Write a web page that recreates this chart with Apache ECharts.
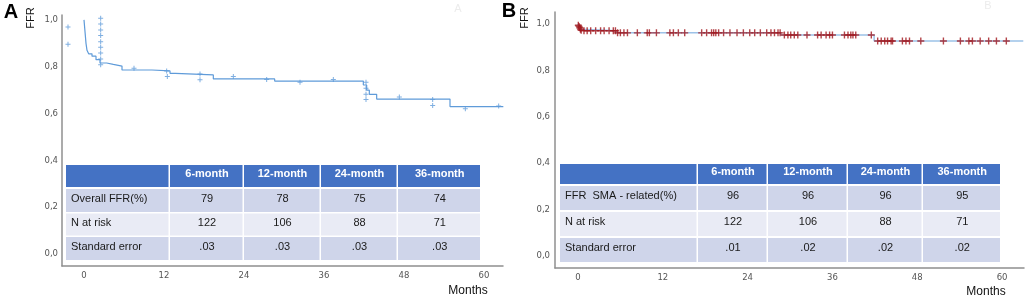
<!DOCTYPE html>
<html>
<head>
<meta charset="utf-8">
<script src="https://cdn.jsdelivr.net/npm/echarts@6/dist/echarts.min.js"></script>
<style>
  html, body { margin: 0; background: #ffffff; }
  #chart { width: 1026px; height: 297px; }
</style>
</head>
<body>
<div id="chart"></div>
<script>
// axis labels
const monthTicks = [0, 12, 24, 36, 48, 60]
const ffrTicks = [0, 0.2, 0.4, 0.6, 0.8, 1.0]

// panel A: survival curve (month, FFR) and censor marks
const curveA = [
  [0, 1.0], [0.15, 0.95], [0.3, 0.9], [0.45, 0.87], [0.7, 0.855], [1.2, 0.845],
  [1.8, 0.83], [2.4, 0.816], [3.4, 0.81], [4.4, 0.803], [5.7, 0.786], [10.2, 0.782],
  [12.9, 0.772], [13.7, 0.765], [19.4, 0.748], [28.6, 0.739], [41.9, 0.722],
  [42.4, 0.7], [42.8, 0.682], [43.9, 0.662], [54.9, 0.63], [62.9, 0.63]
]
const censorA = [
  [-2.4, 0.97], [-2.4, 0.896],
  [2.5, 1.007], [2.5, 0.983], [2.5, 0.957], [2.5, 0.933], [2.5, 0.907],
  [2.5, 0.883], [2.5, 0.859], [2.5, 0.833], [2.5, 0.808],
  [7.5, 0.794], [12.4, 0.782], [12.5, 0.758], [17.4, 0.769], [17.4, 0.744],
  [22.4, 0.758], [27.4, 0.746], [32.4, 0.734], [37.4, 0.746],
  [42.3, 0.734], [42.3, 0.708], [42.3, 0.682], [42.3, 0.66],
  [47.3, 0.671], [52.3, 0.66], [52.3, 0.634], [57.2, 0.621], [62.2, 0.632]
]

// panel B: survival curve and censor marks
const curveB = [
  [0, 1.0], [0.1, 0.99], [0.2, 0.984], [0.3, 0.978], [0.5, 0.971],
  [5.4, 0.962], [28.7, 0.953], [41.9, 0.927], [63, 0.927]
]
const censorB = [
  [0.05, 0.995], [0.15, 0.99], [0.25, 0.984], [0.35, 0.978], [0.45, 0.973],
  [0.85, 0.971], [1.3, 0.971], [1.8, 0.971], [2.5, 0.971], [3.2, 0.971],
  [3.7, 0.971], [4.4, 0.971], [5.0, 0.971], [5.3, 0.971],
  [5.6, 0.962], [6.0, 0.962], [6.5, 0.962], [7.0, 0.962], [8.4, 0.962],
  [9.8, 0.962], [10.1, 0.962], [11.1, 0.962], [13.0, 0.962], [13.5, 0.962],
  [14.2, 0.962], [15.1, 0.962], [17.5, 0.962], [18.2, 0.962], [18.9, 0.962],
  [19.2, 0.962], [19.5, 0.962], [19.9, 0.962], [20.6, 0.962], [21.5, 0.962],
  [22.5, 0.962], [23.4, 0.962], [24.3, 0.962], [25.0, 0.962], [25.8, 0.962],
  [26.7, 0.962], [27.3, 0.962], [27.8, 0.962], [28.3, 0.962], [28.6, 0.962],
  [29.2, 0.953], [29.7, 0.953], [30.1, 0.953], [30.6, 0.953], [31.1, 0.953],
  [32.4, 0.953], [33.9, 0.953], [34.4, 0.953], [35.1, 0.953], [35.6, 0.953],
  [36.0, 0.953], [37.7, 0.953], [38.2, 0.953], [38.6, 0.953], [38.9, 0.953],
  [39.3, 0.953], [41.5, 0.953],
  [42.4, 0.927], [42.9, 0.927], [43.4, 0.927], [43.8, 0.927], [44.3, 0.927],
  [44.5, 0.927], [45.9, 0.927], [46.4, 0.927], [46.9, 0.927], [48.5, 0.927],
  [51.7, 0.927], [54.1, 0.927], [55.3, 0.927], [55.8, 0.927], [56.9, 0.927],
  [58.1, 0.927], [59.2, 0.927], [60.6, 0.927]
]

// tables
const tableHeads = ['6-month', '12-month', '24-month', '36-month']
const rowNamesA = ['Overall FFR(%)', 'N at risk', 'Standard error']
const rateA = ['79', '78', '75', '74']
const riskA = ['122', '106', '88', '71']
const errA = ['.03', '.03', '.03', '.03']
const rowNamesB = ['FFR  SMA - related(%)', 'N at risk', 'Standard error']
const rateB = ['96', '96', '96', '95']
const riskB = ['122', '106', '88', '71']
const errB = ['.01', '.02', '.02', '.02']

const plusPath = 'path://M4,0H6V4H10V6H6V10H4V6H0V4H4Z'
const tableFont = "'Liberation Sans', sans-serif"
const axisGray = '#8f8f8f'

function xAxisCfg(idx, min, max) {
  return {
    gridIndex: idx, type: 'value', min: min, max: max,
    axisLine: { show: true, onZero: false, lineStyle: { color: axisGray, width: 1.5 } },
    axisTick: { show: false },
    splitLine: { show: false },
    axisLabel: {
      customValues: monthTicks, color: '#555', fontSize: 8.5,
      fontFamily: 'DejaVu Sans', margin: 5
    }
  }
}

function yAxisCfg(idx, min, max, margin) {
  return {
    gridIndex: idx, type: 'value', min: min, max: max,
    axisLine: { show: true, onZero: false, lineStyle: { color: axisGray, width: 1.5 } },
    axisTick: { show: false },
    splitLine: { show: false },
    axisLabel: {
      customValues: ffrTicks, color: '#555', fontSize: 8.5,
      fontFamily: 'DejaVu Sans', margin: margin,
      formatter: v => v.toFixed(1).replace('.', ',')
    }
  }
}

function label(x, y, txt, font, fill, rot) {
  return {
    type: 'text', x: x, y: y, rotation: rot || 0,
    style: { text: txt, font: font, fill: fill, align: 'center', verticalAlign: 'middle' }
  }
}

// 表格：列边界、行边界
function makeTable(colEdges, rowEdges, names, rows) {
  const els = []
  const fills = ['#4472C4', '#CFD5EA', '#E9EBF5', '#CFD5EA']
  for (let r = 0; r < 4; r++) {
    for (let c = 0; c < 5; c++) {
      const x0 = colEdges[c], x1 = colEdges[c + 1]
      const y0 = rowEdges[r][0], y1 = rowEdges[r][1]
      els.push({
        type: 'rect',
        shape: { x: x0, y: y0, width: x1 - x0 - 1.5, height: y1 - y0 },
        style: { fill: fills[r] }
      })
      let txt = ''
      if (r === 0 && c > 0) txt = tableHeads[c - 1]
      if (r > 0 && c === 0) txt = names[r - 1]
      if (r > 0 && c > 0) txt = rows[r - 1][c - 1]
      if (!txt) continue
      const left = c === 0
      els.push({
        type: 'text',
        x: left ? x0 + 5 : (x0 + x1) / 2,
        y: (y0 + y1) / 2 - 2,
        style: {
          text: txt,
          fill: r === 0 ? '#ffffff' : '#1a1a1a',
          font: (r === 0 ? 'bold ' : '') + '11px ' + tableFont,
          align: left ? 'left' : 'center',
          verticalAlign: 'middle'
        }
      })
    }
  }
  return els
}

const chart = echarts.init(document.getElementById('chart'))

const graphics = []
  .concat(makeTable(
    [66, 170, 244, 321, 398, 481.5],
    [[165, 187], [189, 212], [213.5, 235.5], [237, 260]],
    rowNamesA, [rateA, riskA, errA]))
  .concat(makeTable(
    [560, 698, 768, 848, 923, 1001.5],
    [[164, 184], [186, 210], [212, 236], [238, 262]],
    rowNamesB, [rateB, riskB, errB]))
  .concat([
    label(11, 12, 'A', 'bold 20px Liberation Sans', '#000'),
    label(509, 11, 'B', 'bold 20px Liberation Sans', '#000'),
    label(31, 18, 'FFR', '11px Liberation Sans', '#111', Math.PI / 2),
    label(525, 18, 'FFR', '11px Liberation Sans', '#111', Math.PI / 2),
    label(468, 291, 'Months', '12px Liberation Sans', '#111'),
    label(986, 292, 'Months', '12px Liberation Sans', '#111'),
    label(458, 9, 'A', '11px Liberation Sans', '#ececec'),
    label(988, 6, 'B', '11px Liberation Sans', '#ececec')
  ])

chart.setOption({
  animation: false,
  backgroundColor: '#ffffff',
  grid: [
    { left: 62, top: 15, width: 441, height: 251 },
    { left: 555, top: 12, width: 469, height: 256 }
  ],
  xAxis: [xAxisCfg(0, -3.3, 62.85), xAxisCfg(1, -3.25, 63.1)],
  yAxis: [yAxisCfg(0, -0.051, 1.021, 4), yAxisCfg(1, -0.052, 1.052, 5)],
  series: [
    {
      type: 'line', xAxisIndex: 0, yAxisIndex: 0, step: 'end', showSymbol: false,
      lineStyle: { color: '#5f9bd9', width: 1.2 }, data: curveA, z: 3
    },
    {
      type: 'scatter', xAxisIndex: 0, yAxisIndex: 0, symbol: plusPath, symbolSize: 5,
      itemStyle: { color: '#5f9bd9' }, data: censorA, z: 4
    },
    {
      type: 'line', xAxisIndex: 1, yAxisIndex: 1, step: 'end', showSymbol: false,
      lineStyle: { color: '#9cc2e8', width: 1.5 }, data: curveB, z: 3
    },
    {
      type: 'scatter', xAxisIndex: 1, yAxisIndex: 1, symbol: plusPath, symbolSize: 7,
      itemStyle: { color: '#a0151b' }, data: censorB, z: 4
    }
  ],
  graphic: { elements: graphics }
})
</script>
</body>
</html>
